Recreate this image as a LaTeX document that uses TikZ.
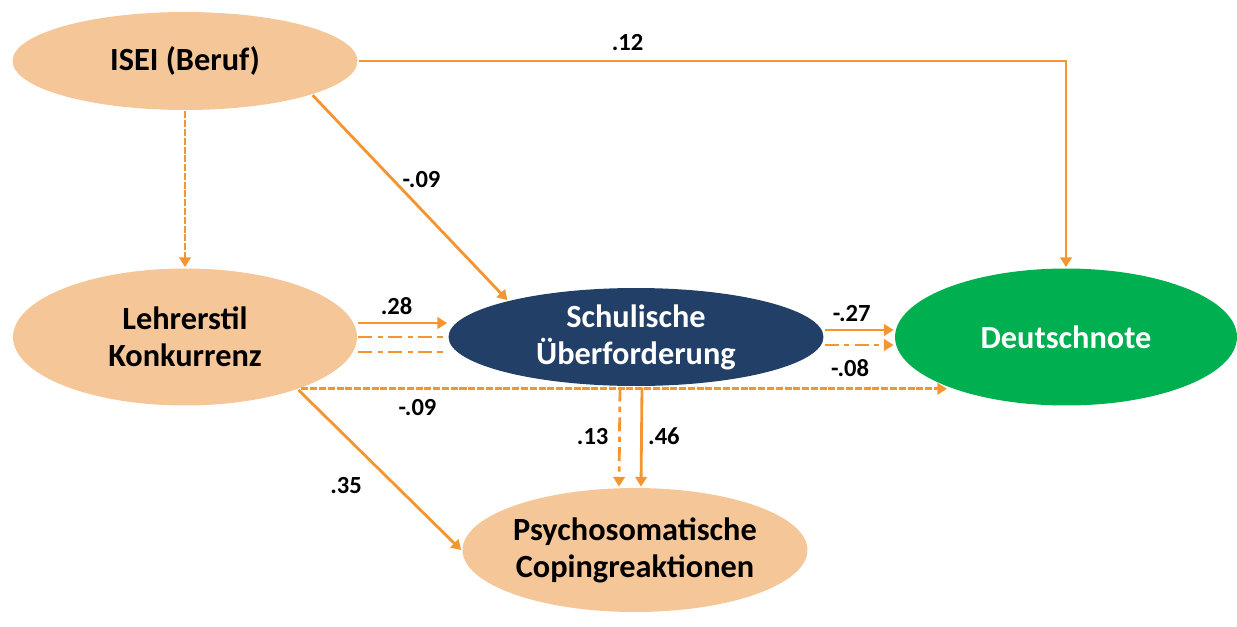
\documentclass[tikz,border=0pt]{standalone}
\usepackage{fontspec}
\setmainfont{Carlito}
\usetikzlibrary{shapes.geometric}
\usetikzlibrary{arrows.meta}
\definecolor{mypeach}{HTML}{F5C697}
\definecolor{mynavy}{HTML}{213F67}
\definecolor{mygreen}{HTML}{00B050}
\definecolor{myarrow}{HTML}{F4952F}

\begin{document}
\begin{tikzpicture}[
    x=0.02cm, y=-0.02cm,
    line width=1.6pt,
    color=myarrow,
    text=black,
    >={Triangle[length=5.5pt,width=6.5pt]},
    var/.style={
      ellipse,
      inner sep=0pt,
      align=center,
      font=\fontsize{18.4}{21}\selectfont\bfseries
    },
    coef/.style={
      inner sep=1pt,
      text=black,
      font=\fontsize{14}{16}\selectfont\bfseries
    },
    indirect/.style={dash pattern=on 4pt off 1pt},
    dashdot/.style={dash pattern=on 8pt off 3pt on 3pt off 3pt}
]
  \useasboundingbox (0,0) rectangle (1237,626);

  \node[var, fill=mypeach, minimum width=6.9cm, minimum height=1.96cm]
    (isei) at (185,61) {ISEI (Beruf)};

  \node[var, fill=mypeach, minimum width=6.88cm, minimum height=2.74cm]
    (lehrer) at (185,337) {Lehrerstil\\Konkurrenz};

  \node[var, fill=mynavy, text=white, minimum width=7.5cm, minimum height=1.96cm]
    (schul) at (636,337) {Schulische\\Überforderung};

  \node[var, fill=mygreen, text=white, minimum width=6.84cm, minimum height=2.74cm]
    (deutsch) at (1066,337) {Deutschnote};

  \node[var, fill=mypeach, minimum width=6.9cm, minimum height=2.48cm]
    (psycho) at (635,550) {Psychosomatische\\Copingreaktionen};

  % paths from ISEI
  \draw[->] (isei.east) -|
  node [coef, pos=0.19, above=4pt] {.12}
  (deutsch.north);

  \draw[->] (isei.-15) --
  node [coef, pos=0.41, right=4pt] {-.09}
  (schul.164);

  \draw[->, indirect] (isei.south) -- (lehrer.north);

  % paths from Lehrerstil
  \draw[->] ([yshift=0.28cm]lehrer.east) --
  node [coef, pos=0.43, above=3pt] {.28}
  ([yshift=0.28cm]schul.west);
  \draw[dashdot] (lehrer.east) -- (schul.west);
  \draw[dashdot] ([yshift=-0.3cm]lehrer.east) -- ([yshift=-0.3cm]schul.west);

  \draw[->, indirect] (lehrer.-24) --
  node [coef, pos=0.18, below=4pt] {-.09}
  node [coef, pos=0.85, above=5pt] {-.08}
  (lehrer.-24 -| deutsch.203);

  \draw[->] (lehrer.-25) --
  node [coef, pos=0.6, left=0.62cm] {.35}
  (psycho.west);

  % paths from Schulische Ueberforderung
  \draw[->] ([yshift=0.14cm]schul.east) --
  node [coef, pos=0.39, above=3pt] {-.27}
  ([yshift=0.14cm]schul.east -| deutsch.west);
  \draw[->, dashdot] ([yshift=-0.16cm]schul.east) -- ([yshift=-0.16cm]schul.east -| deutsch.west);

  \draw[->, dashdot] ([xshift=-0.32cm]schul.south) --
  node [coef, pos=0.49, left=4.5pt] {.13}
  ([xshift=-0.32cm]psycho.north);

  \draw[->] ([xshift=0.12cm]schul.south) --
  node [coef, pos=0.49, right=2pt] {.46}
  ([xshift=0.12cm]psycho.north);

\end{tikzpicture}
\end{document}
